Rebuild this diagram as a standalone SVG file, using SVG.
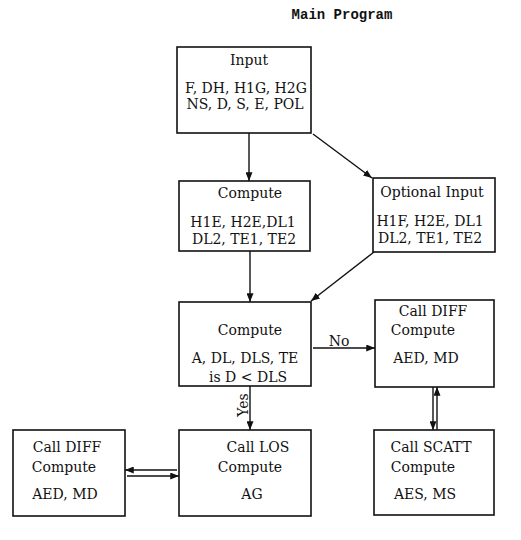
<svg xmlns="http://www.w3.org/2000/svg" width="521" height="540" viewBox="0 0 521 540">
<style>
.box{fill:#fff;stroke:#111;stroke-width:1.6}
.t{font-family:"DejaVu Serif","Liberation Serif",serif;font-size:14px;fill:#111;text-anchor:middle}
.title{font-family:"Liberation Mono","DejaVu Sans Mono",monospace;font-size:14px;font-weight:bold;fill:#111;text-anchor:middle}
.c{stroke:#111;stroke-width:1.4;fill:none}
</style>
<defs>
<marker id="ah" viewBox="0 0 10 8" refX="10" refY="4" markerWidth="9" markerHeight="7" markerUnits="userSpaceOnUse" orient="auto">
<path d="M0,0 L10,4 L0,8 z" fill="#111"/>
</marker>
</defs>
<rect width="521" height="540" fill="#fff"/>
<text class="title" x="342" y="19">Main Program</text>

<g id="connectors">
<line class="c" x1="249" y1="133" x2="249" y2="181" marker-end="url(#ah)"/>
<line class="c" x1="313" y1="134" x2="372" y2="178" marker-end="url(#ah)"/>
<line class="c" x1="250" y1="251" x2="250" y2="302" marker-end="url(#ah)"/>
<line class="c" x1="374" y1="252" x2="311" y2="301" marker-end="url(#ah)"/>
<line class="c" x1="313" y1="348" x2="375" y2="348" marker-end="url(#ah)"/>
<text class="t" x="339" y="346">No</text>
<line class="c" x1="433" y1="387" x2="433" y2="430" marker-end="url(#ah)"/>
<line class="c" x1="437" y1="430" x2="437" y2="387" marker-end="url(#ah)"/>
<line class="c" x1="250" y1="386" x2="250" y2="430" marker-end="url(#ah)"/>
<text class="t" transform="translate(248,405) rotate(-90)">Yes</text>
<line class="c" x1="177" y1="470" x2="125" y2="470" marker-end="url(#ah)"/>
<line class="c" x1="127" y1="476" x2="179" y2="476" marker-end="url(#ah)"/>
</g>

<g id="input">
<rect class="box" x="177" y="47" width="134" height="86"/>
<text class="t" x="249" y="65">Input</text>
<text class="t" x="246" y="93">F, DH, H1G, H2G</text>
<text class="t" x="245" y="109">NS, D, S, E, POL</text>
</g>

<g id="compute1">
<rect class="box" x="179" y="181" width="131" height="70"/>
<text class="t" x="250" y="198">Compute</text>
<text class="t" x="243" y="227">H1E, H2E,DL1</text>
<text class="t" x="244" y="244">DL2, TE1, TE2</text>
</g>

<g id="optional">
<rect class="box" x="373" y="178" width="122" height="74"/>
<text class="t" x="432" y="197">Optional Input</text>
<text class="t" x="430" y="226">H1F, H2E, DL1</text>
<text class="t" x="430" y="243">DL2, TE1, TE2</text>
</g>

<g id="compute2">
<rect class="box" x="179" y="302" width="132" height="84"/>
<text class="t" x="250" y="335">Compute</text>
<text class="t" x="245" y="363">A, DL, DLS, TE</text>
<text class="t" x="248" y="382">is D &lt; DLS</text>
</g>

<g id="diff-right">
<rect class="box" x="375" y="300" width="119" height="87"/>
<text class="t" x="433" y="316">Call DIFF</text>
<text class="t" x="423" y="335">Compute</text>
<text class="t" x="426" y="363">AED, MD</text>
</g>

<g id="los">
<rect class="box" x="179" y="430" width="132" height="86"/>
<text class="t" x="258" y="452">Call LOS</text>
<text class="t" x="250" y="472">Compute</text>
<text class="t" x="252" y="499">AG</text>
</g>

<g id="diff-left">
<rect class="box" x="13" y="430" width="112" height="86"/>
<text class="t" x="67" y="452">Call DIFF</text>
<text class="t" x="64" y="472">Compute</text>
<text class="t" x="65" y="499">AED, MD</text>
</g>

<g id="scatt">
<rect class="box" x="374" y="430" width="120" height="85"/>
<text class="t" x="431" y="452">Call SCATT</text>
<text class="t" x="423" y="472">Compute</text>
<text class="t" x="425" y="499">AES, MS</text>
</g>
</svg>
